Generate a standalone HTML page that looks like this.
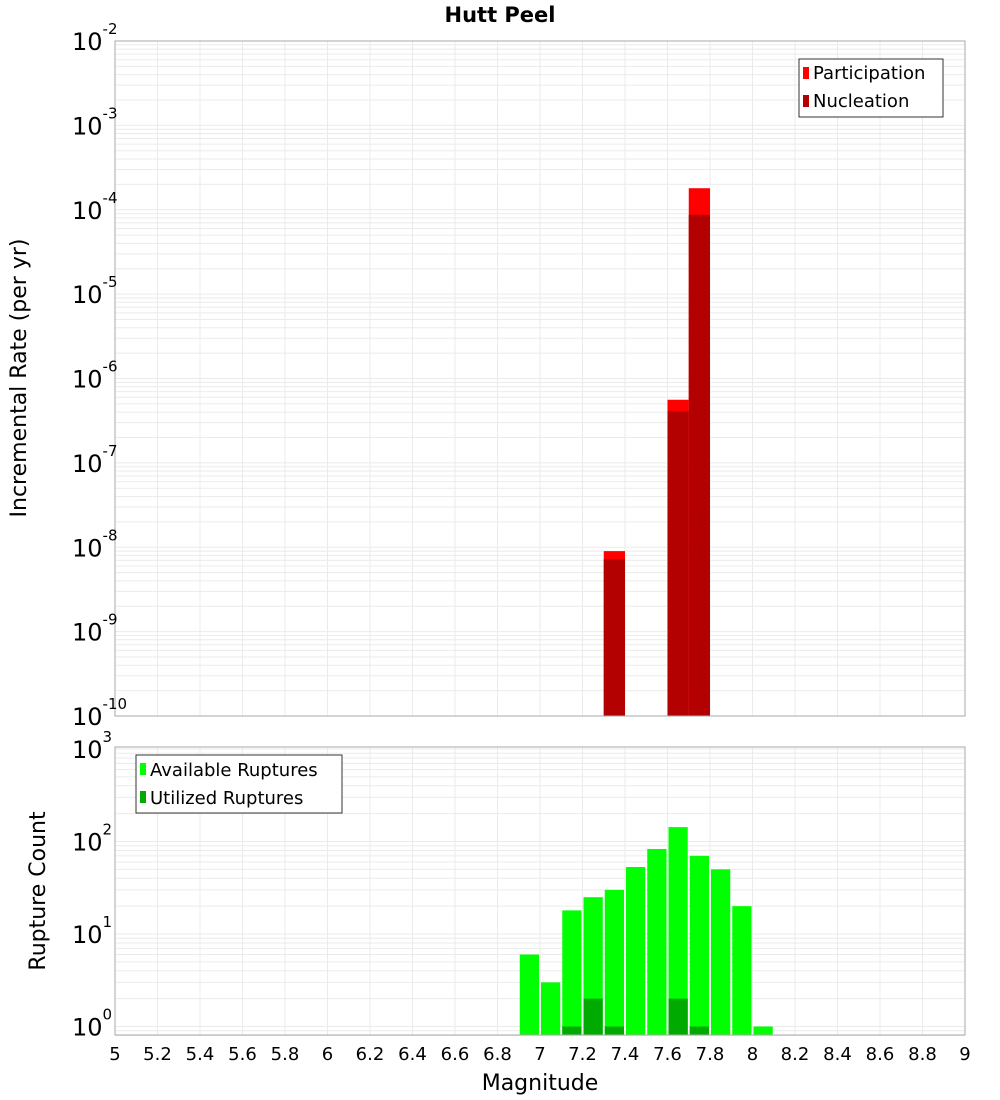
<!DOCTYPE html>
<html><head><meta charset="utf-8"><style>
body{margin:0;background:#fff;}
svg{display:block;font-family:"DejaVu Sans","Liberation Sans",sans-serif;}
</style></head><body>
<svg id="chart" width="1000" height="1100" xmlns="http://www.w3.org/2000/svg">
<text x="500" y="22" text-anchor="middle" font-size="21" font-weight="bold">Hutt Peel</text>
<g id="gtop"></g>
<g id="gbot"></g>
<text transform="translate(26,378) rotate(-90)" text-anchor="middle" font-size="22">Incremental Rate (per yr)</text>
<text transform="translate(45,891) rotate(-90)" text-anchor="middle" font-size="22">Rupture Count</text>
<text x="540" y="1090" text-anchor="middle" font-size="22">Magnitude</text>
<g id="legends">
<g>
<rect x="799" y="59" width="144" height="58" fill="#fff" stroke="#333"/>
<rect x="803" y="67" width="6" height="12" fill="#ff0000"/>
<text x="813" y="79" font-size="18">Participation</text>
<rect x="803" y="95" width="6" height="12" fill="#b30000"/>
<text x="813" y="107" font-size="18">Nucleation</text>
</g>
<g>
<rect x="136" y="755" width="206" height="58" fill="#fff" stroke="#333"/>
<rect x="140" y="763" width="6" height="12" fill="#00ff00"/>
<text x="150" y="776" font-size="18">Available Ruptures</text>
<rect x="140" y="791" width="6" height="12" fill="#00aa00"/>
<text x="150" y="804" font-size="18">Utilized Ruptures</text>
</g>
</g>
</svg>
<script>
const rateMags = [7.35, 7.65, 7.75];
const participation = [9.0e-9, 5.6e-7, 1.8e-4];
const nucleation = [7.2e-9, 4.1e-7, 8.7e-5];
const countMags = [6.95, 7.05, 7.15, 7.25, 7.35, 7.45, 7.55, 7.65, 7.75, 7.85, 7.95, 8.05];
const available = [6, 3, 18, 25, 30, 53, 83, 143, 70, 50, 20, 1];
const utilized = [0, 0, 1, 2, 1, 0, 0, 2, 1, 0, 0, 0];
const xTicks = ["5","5.2","5.4","5.6","5.8","6","6.2","6.4","6.6","6.8","7","7.2","7.4","7.6","7.8","8","8.2","8.4","8.6","8.8","9"];
const topExps = [-2,-3,-4,-5,-6,-7,-8,-9,-10];
const botExps = [0,1,2,3];

const NS="http://www.w3.org/2000/svg";
function mk(parent,tag,attrs){const e=document.createElementNS(NS,tag);for(const k in attrs)e.setAttribute(k,attrs[k]);parent.appendChild(e);return e;}
const X0=115,X1=965;
const xs=m=>X0+(m-5)/4*(X1-X0);
const T0=41,T1=716;
const yt=v=>T0+(-2-Math.log10(v))/8*(T1-T0);
const B0=747,B1=1035;
const yb=v=>1026.5-Math.log10(v)*92.5;

function grid(g,a,b,yf,lo,hi){
  for(let d=lo;d<=hi;d++)for(let k=1;k<10;k++){const v=k*Math.pow(10,d);const y=yf(v);if(y<a-0.5||y>b+0.5)continue;
    const l=mk(g,'line',{x1:X0,x2:X1,y1:y,y2:y,stroke:'#ebebeb','stroke-width':1});
    
    }
  xTicks.forEach(t=>{const x=xs(+t);const l=mk(g,'line',{x1:x,x2:x,y1:a,y2:b,stroke:'#ebebeb','stroke-width':1});
    
    });
}
const gTop=document.getElementById('gtop'),gBot=document.getElementById('gbot');
grid(gTop,T0,T1,yt,-10,-3);
grid(gBot,B0,B1,yb,-1,3);
const bw=(X1-X0)/40;
rateMags.forEach((m,i)=>{
  const x=xs(m)-bw/2;
  let r=mk(gTop,'rect',{x:x,y:yt(participation[i]),width:bw,height:T1-yt(participation[i]),fill:'#ff0000'});
  
  
  r=mk(gTop,'rect',{x:x,y:yt(nucleation[i]),width:bw,height:T1-yt(nucleation[i]),fill:'#b30000'});
  
  
});
countMags.forEach((m,i)=>{
  const x=xs(m)-bw/2+1;
  let r=mk(gBot,'rect',{x:x,y:yb(available[i]),width:bw-2,height:B1-yb(available[i]),fill:'#00ff00'});
  
  
  if(utilized[i]>0){r=mk(gBot,'rect',{x:x,y:yb(utilized[i]),width:bw-2,height:B1-yb(utilized[i]),fill:'#00aa00'});
  
  }
});
[[gTop,T0,T1],[gBot,B0,B1]].forEach(([g,a,b])=>{const f=mk(g,'rect',{x:X0,y:a,width:X1-X0,height:b-a,fill:'none',stroke:'#aaa'});
  
  });
function ylab(g,y,e){const t=mk(g,'text',{x:72,y:y+9,'font-size':24});t.textContent='10';
  
  
  const s=mk(t,'tspan',{dy:-16,'font-size':15});s.textContent=String(e);}
topExps.forEach(e=>ylab(gTop,yt(Math.pow(10,e)),e));
botExps.forEach(e=>ylab(gBot,yb(Math.pow(10,e)),e));
xTicks.forEach(t=>{const e=mk(gBot,'text',{x:xs(+t),y:1060,'text-anchor':'middle','font-size':18});e.textContent=t;
  
  });
const svg=document.getElementById('chart');svg.appendChild(document.getElementById('legends'));
</script>
</body></html>
